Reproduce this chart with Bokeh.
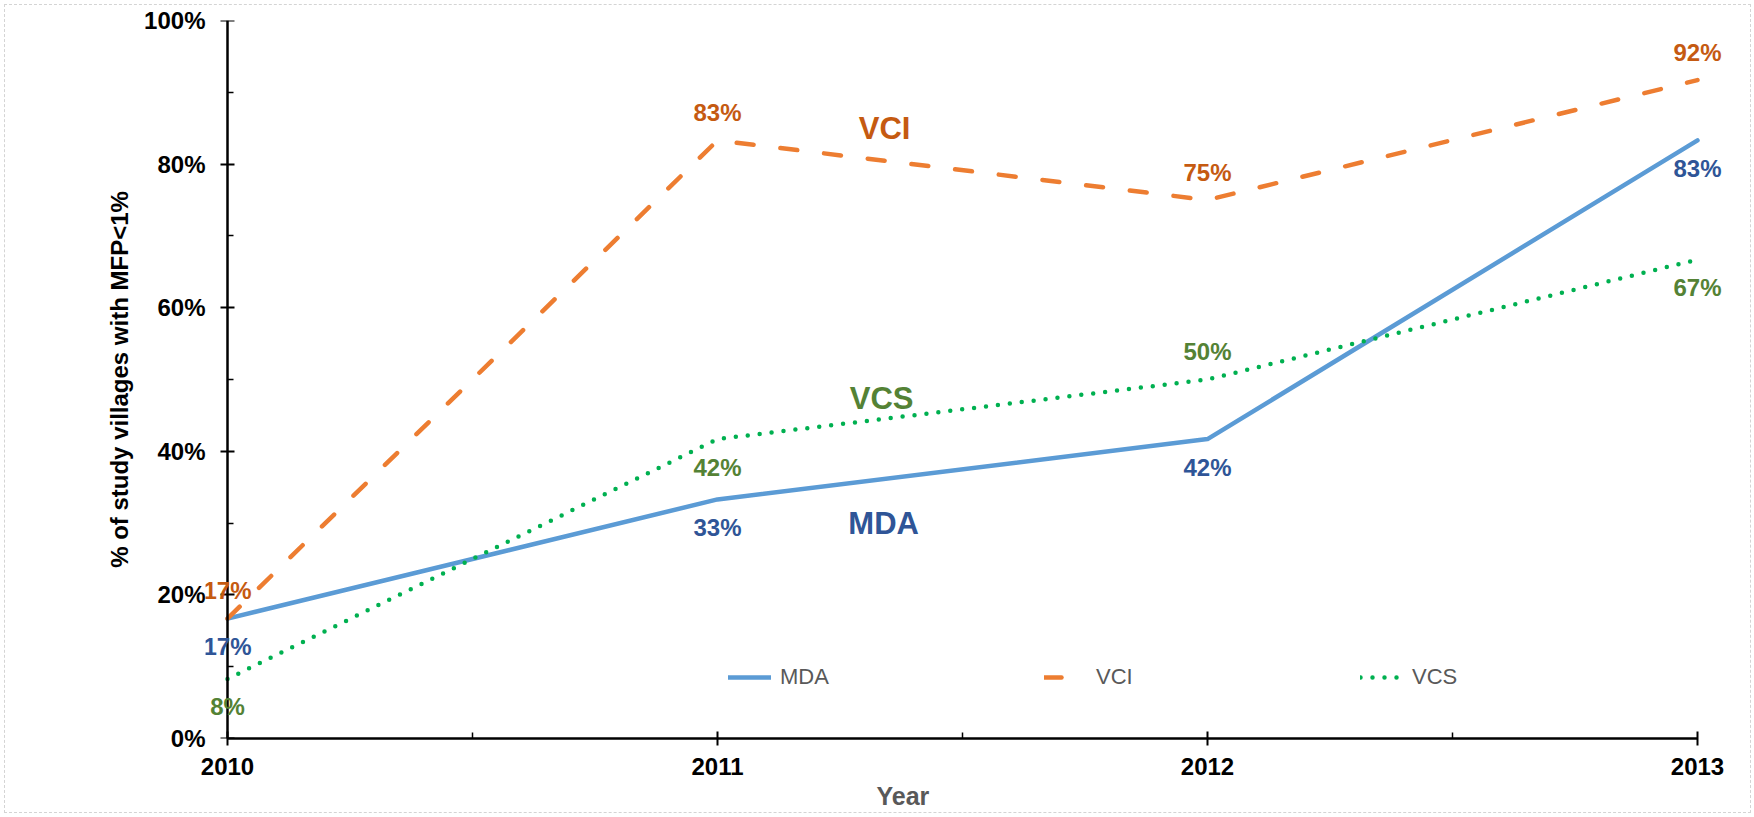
from bokeh.plotting import figure
from bokeh.models import (ColumnDataSource, LabelSet, Label, FixedTicker, Title,
                          NumeralTickFormatter, Legend, LegendItem, Range1d, LinearAxis,
                          CustomJSTickFormatter)
from bokeh.embed import file_html
from bokeh.resources import INLINE
from bokeh.core.properties import value

# ---------------- data ----------------
years = [2010, 2011, 2012, 2013]
mda = [0.167, 0.333, 0.417, 0.833]
vci = [0.167, 0.833, 0.750, 0.917]
vcs = [0.083, 0.417, 0.500, 0.667]
series_names = ["MDA", "VCI", "VCS"]
y_ticks = [0.0, 0.2, 0.4, 0.6, 0.8, 1.0]
y_title = "% of study villages with MFP<1%"
x_title = "Year"

# ---------------- styles ----------------
FONT = "Liberation Sans"
line_colors = {"MDA": "#5B9BD5", "VCI": "#ED7D31", "VCS": "#00B050"}
label_colors = {"MDA": "#2F5597", "VCI": "#C55A11", "VCS": "#548235"}
dashes = {"MDA": "solid", "VCI": "17 27", "VCS": "0 12"}
# label placement: +1 above the point, -1 below
placement = {"MDA": [-1, -1, -1, -1], "VCI": [1, 1, 1, 1], "VCS": [-1, -1, 1, -1]}
name_pos = {"VCI": (2011.341, 0.850), "VCS": (2011.335, 0.473), "MDA": (2011.339, 0.299)}
pad_left, pad_right = 0.0449, 0.1   # room in the frame for the value labels

p = figure(width=1745, height=807, output_backend="svg", toolbar_location=None,
           x_range=Range1d(years[0] - pad_left, years[-1] + pad_right),
           y_range=Range1d(y_ticks[0], y_ticks[-1]),
           min_border_left=200, min_border_right=4, min_border_top=15,
           min_border_bottom=74)
p.styles = {"margin": "5px 0 0 5px", "outline": "1px dashed #d4d4d4", "outline-offset": "0px"}
p.outline_line_color = None
p.xgrid.grid_line_color = None
p.ygrid.grid_line_color = None
p.background_fill_color = "white"
p.border_fill_color = "white"

minor_x = [y + 0.5 for y in years[:-1]]
minor_y = [t + 0.1 for t in y_ticks[:-1]]

# ---- x axis ----
xa = p.xaxis[0]
xa.ticker = FixedTicker(ticks=years, minor_ticks=minor_x)
xa.bounds = (years[0], years[-1])

# ---- y tick labels + title (inner left panel, at the frame edge) ----
ye = p.yaxis[0]
ye.ticker = FixedTicker(ticks=y_ticks, minor_ticks=[])
ye.formatter = NumeralTickFormatter(format="0%")
ye.axis_line_color = None
ye.major_tick_out = 0
ye.major_tick_in = 0
ye.minor_tick_out = 0
ye.minor_tick_in = 0
ye.major_label_standoff = 0
ye.axis_label = y_title
ye.axis_label_text_font = FONT
ye.axis_label_text_font_style = "bold"
ye.axis_label_text_font_size = "24px"
ye.axis_label_text_color = "black"
ye.axis_label_standoff = 8

# ---- y axis line and ticks drawn at x = 2010 ----
ya = LinearAxis(fixed_location=years[0],
                ticker=FixedTicker(ticks=y_ticks, minor_ticks=minor_y),
                formatter=CustomJSTickFormatter(code="return ''"))
p.add_layout(ya, "left")

for ax in (xa, ya, ye):
    ax.major_label_text_font = FONT
    ax.major_label_text_font_style = "bold"
    ax.major_label_text_font_size = "24px"
    ax.major_label_text_color = "black"
for ax in (xa, ya):
    ax.axis_line_color = "black"
    ax.axis_line_width = 2.5
    ax.major_tick_line_color = "black"
    ax.major_tick_line_width = 2
    ax.major_tick_in = 7
    ax.major_tick_out = 7
    ax.minor_tick_line_color = "black"
    ax.minor_tick_line_width = 1.5
    ax.minor_tick_in = 6
    ax.minor_tick_out = 0
xa.major_label_standoff = 12

# x title as a title panel under the axis, off-centre like the reference
p.add_layout(Title(text=x_title, align="left", offset=671, standoff=5,
                   text_font=FONT, text_font_style="bold", text_font_size="25px",
                   text_color="#595959"), "below")

# ---------------- lines ----------------
values = {"MDA": mda, "VCI": vci, "VCS": vcs}
renderers = {}
for name in series_names:
    src = ColumnDataSource(dict(x=years, y=values[name]))
    renderers[name] = p.line("x", "y", source=src, line_color=line_colors[name],
                             line_width=4.5, line_dash=dashes[name],
                             line_cap="round", line_join="round")

# ---------------- data labels ----------------
for name in series_names:
    vals = values[name]
    src = ColumnDataSource(dict(
        x=years, y=vals,
        text=[f"{round(v * 100)}%" for v in vals],
        dy=[28 * s for s in placement[name]],
    ))
    p.add_layout(LabelSet(x="x", y="y", text="text", source=src, y_offset="dy",
                          text_align="center", text_baseline="middle",
                          text_font=value(FONT), text_font_style="bold",
                          text_font_size="24px", text_color=label_colors[name]))

# ---------------- series names ----------------
for name in series_names:
    x, y = name_pos[name]
    p.add_layout(Label(x=x, y=y, text=name, text_align="center", text_baseline="middle",
                       text_font=FONT, text_font_style="bold", text_font_size="31px",
                       text_color=label_colors[name]))

# ---------------- legend ----------------
legend = Legend(items=[LegendItem(label=n, renderers=[renderers[n]]) for n in series_names],
                orientation="horizontal", location=(523, 48),
                glyph_width=43, glyph_height=20, label_standoff=9, label_width=264,
                spacing=0, padding=0, margin=0,
                border_line_color=None, background_fill_alpha=0,
                label_text_font=FONT, label_text_font_size="22px",
                label_text_color="#595959")
p.add_layout(legend)

with open("out.html", "w", encoding="utf-8") as f:
    f.write(file_html(p, INLINE))
